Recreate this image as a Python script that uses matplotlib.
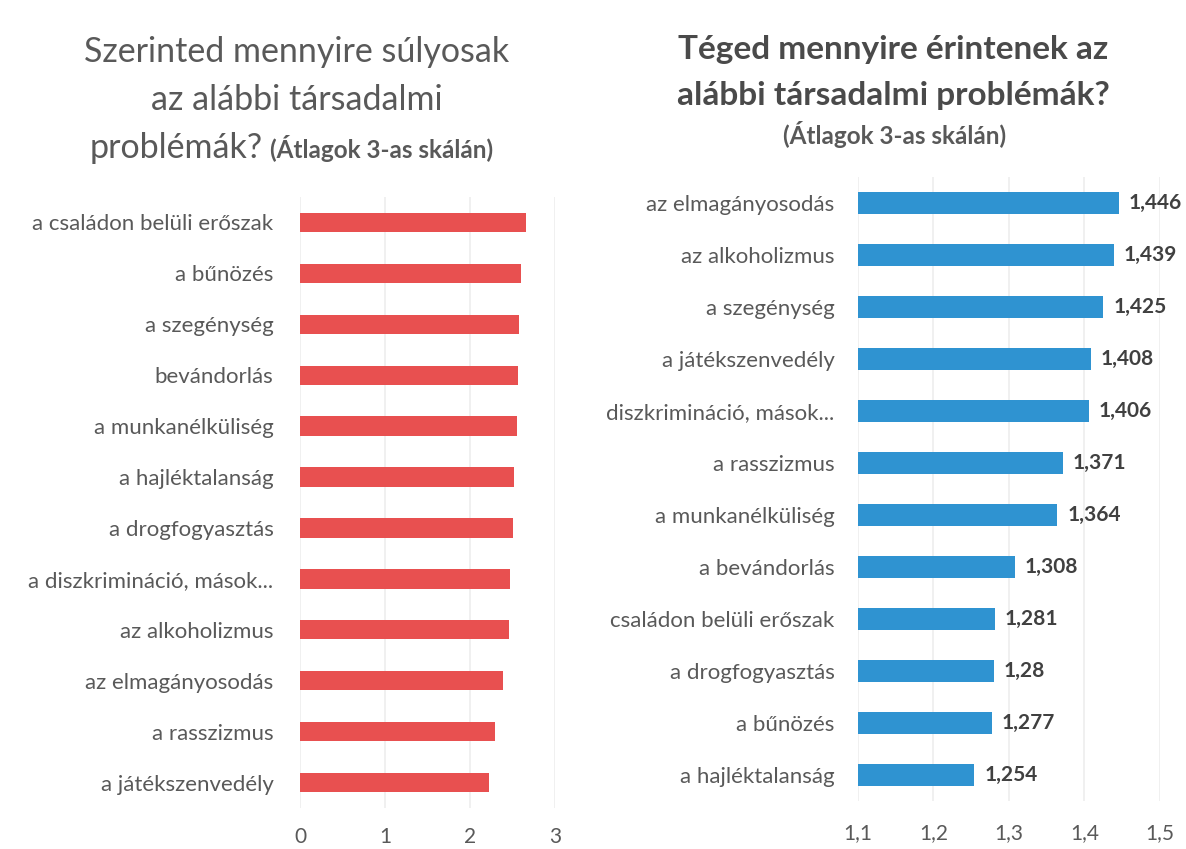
import matplotlib
matplotlib.use("Agg")
import matplotlib.pyplot as plt

plt.rcParams['font.family'] = ['Lato', 'DejaVu Sans']

# Left chart data (estimated; values hidden behind bars)
left_categories = ["a családon belüli erőszak", "a bűnözés", "a szegénység", "bevándorlás",
                   "a munkanélküliség", "a hajléktalanság", "a drogfogyasztás",
                   "a diszkrimináció, mások...", "az alkoholizmus", "az elmagányosodás",
                   "a rasszizmus", "a játékszenvedély"]
left_values = [2.66, 2.60, 2.58, 2.56, 2.55, 2.52, 2.51, 2.47, 2.46, 2.39, 2.29, 2.22]
left_ticks = [0, 1, 2, 3]
left_ticklabels = ["0", "1", "2", "3"]

# Right chart data
right_categories = ["az elmagányosodás", "az alkoholizmus", "a szegénység", "a játékszenvedély",
                    "diszkrimináció, mások...", "a rasszizmus", "a munkanélküliség",
                    "a bevándorlás", "családon belüli erőszak", "a drogfogyasztás",
                    "a bűnözés", "a hajléktalanság"]
right_values = [1.446, 1.439, 1.425, 1.408, 1.406, 1.371, 1.364, 1.308, 1.281, 1.28, 1.277, 1.254]
right_labels = ["1,446", "1,439", "1,425", "1,408", "1,406", "1,371", "1,364", "1,308",
                "1,281", "1,28", "1,277", "1,254"]
right_ticks = [1.1, 1.2, 1.3, 1.4, 1.5]
right_ticklabels = ["1,1", "1,2", "1,3", "1,4", "1,5"]

W, H = 1186, 849
fig = plt.figure(figsize=(W / 100, H / 100), dpi=100)
fig.patch.set_facecolor('white')

TXT = '#595959'
RED = '#E85050'
BLUE = '#2F93D1'
GRID = '#EDEDED'


def px_axes(x0, x1, ytop, ybot):
    return fig.add_axes([x0 / W, 1 - ybot / H, (x1 - x0) / W, (ybot - ytop) / H])


def style(ax):
    for s in ax.spines.values():
        s.set_visible(False)
    ax.tick_params(axis='both', length=0)
    ax.xaxis.grid(True, color=GRID, linewidth=1.2)
    ax.set_axisbelow(True)


# Left axes
axL = px_axes(300, 555, 197, 808)
yL = list(range(len(left_categories)))
axL.barh(yL, left_values, height=0.38, color=RED)
axL.set_xlim(0, 3)
axL.set_ylim(len(left_categories) - 0.5, -0.5)
axL.set_yticks(yL)
axL.set_yticklabels(left_categories, fontsize=16, color=TXT)
axL.set_xticks(left_ticks)
axL.set_xticklabels(left_ticklabels, fontsize=15, color=TXT)
axL.tick_params(axis='y', pad=19)
axL.tick_params(axis='x', pad=14)
style(axL)

# Right axes
axR = px_axes(858, 1160, 177, 801)
yR = list(range(len(right_categories)))
axR.barh(yR, [v - 1.1 for v in right_values], left=1.1, height=0.42, color=BLUE)
axR.set_xlim(1.1, 1.5)
axR.set_ylim(len(right_categories) - 0.5, -0.5)
axR.set_yticks(yR)
axR.set_yticklabels(right_categories, fontsize=16, color=TXT)
axR.set_xticks(right_ticks)
axR.set_xticklabels(right_ticklabels, fontsize=15, color=TXT)
axR.tick_params(axis='y', pad=17)
axR.tick_params(axis='x', pad=16)
style(axR)
for y, v, lab in zip(yR, right_values, right_labels):
    axR.text(v + 0.013, y, lab, va='center', ha='left', fontsize=15,
             color='#404040', fontweight='bold', clip_on=False)

# Titles
fig.text(297 / W, 1 - 52 / H, "Szerinted mennyire súlyosak", ha='center', va='center',
         fontsize=24.5, color=TXT)
fig.text(297 / W, 1 - 100 / H, "az alábbi társadalmi", ha='center', va='center',
         fontsize=24.5, color=TXT)
fig.text(263 / W, 1 - 158 / H, "problémák?", ha='right', va='baseline',
         fontsize=24.5, color=TXT)
fig.text(270 / W, 1 - 158 / H, "(Átlagok 3-as skálán)", ha='left', va='baseline',
         fontsize=17.5, color=TXT, fontweight='bold')

fig.text(893 / W, 1 - 50 / H, "Téged mennyire érintenek az", ha='center', va='center',
         fontsize=24, color='#4a4a4a', fontweight='bold')
fig.text(893 / W, 1 - 95 / H, "alábbi társadalmi problémák?", ha='center', va='center',
         fontsize=24, color='#4a4a4a', fontweight='bold')
fig.text(895 / W, 1 - 135 / H, "(Átlagok 3-as skálán)", ha='center', va='center',
         fontsize=17.5, color=TXT, fontweight='bold')

fig.savefig("out.png", dpi=100, facecolor='white')
